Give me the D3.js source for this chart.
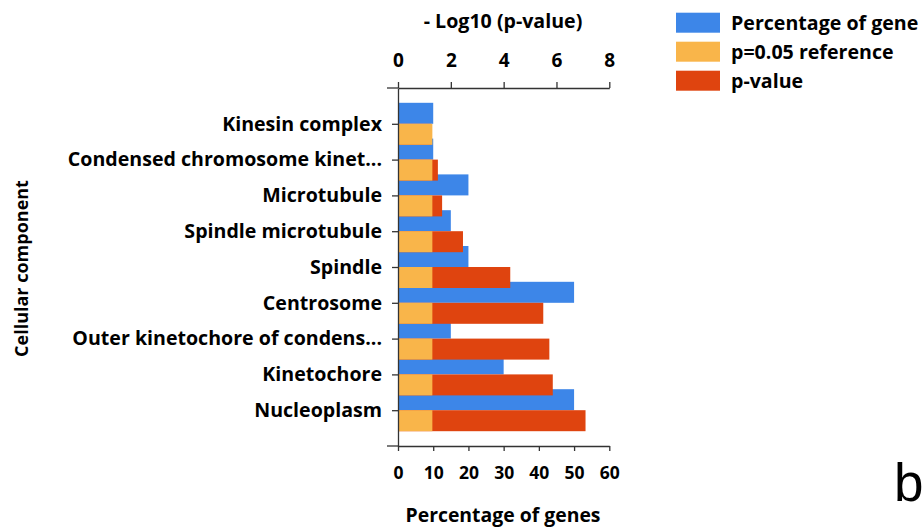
<!DOCTYPE html>
<html>
<head>
<meta charset="utf-8">
<script src="https://cdn.jsdelivr.net/npm/d3@7"></script>
<style>
  html, body { margin: 0; padding: 0; background: #fff; }
  svg { display: block; }
  text { font-family: "Open Sans", sans-serif; font-weight: bold; fill: #000; }
</style>
</head>
<body>
<svg id="chart" width="923" height="529"></svg>
<script>
const categories = [
  "Kinesin complex",
  "Condensed chromosome kinet...",
  "Microtubule",
  "Spindle microtubule",
  "Spindle",
  "Centrosome",
  "Outer kinetochore of condens...",
  "Kinetochore",
  "Nucleoplasm"
];
const percentGenes = [10, 10, 20, 15, 20, 50, 15, 30, 50];
const logP = [1.25, 1.51, 1.67, 2.46, 4.25, 5.5, 5.73, 5.86, 7.1];
const refLogP = [1.301, 1.301, 1.301, 1.301, 1.301, 1.301, 1.301, 1.301, 1.301];
const topTicks = [0, 2, 4, 6, 8];
const bottomTicks = [0, 10, 20, 30, 40, 50, 60];
const seriesNames = ["Percentage of gene", "p=0.05 reference", "p-value"];
const colors = ["#3d86e8", "#f9b54a", "#df440f"];

const svg = d3.select("#chart");
const mLeft = 398, mRight = 609.3, mTop = 88, mBottom = 446;

const xLog = d3.scaleLinear().domain([0, 8]).range([mLeft, mRight]);
const xPct = d3.scaleLinear().domain([0, 60]).range([mLeft, mRight]);
const y = d3.scalePoint().domain(categories).range([mTop, mBottom]).padding(1);
const barH = 21;

// Blue bars (percentage), above tick
svg.append("g").selectAll("rect").data(categories).join("rect")
  .attr("x", xPct(0))
  .attr("y", (d) => y(d) - barH)
  .attr("width", (d, i) => xPct(percentGenes[i]) - xPct(0))
  .attr("height", barH)
  .attr("fill", colors[0]);

// Red bars (p-value)
svg.append("g").selectAll("rect").data(categories).join("rect")
  .attr("x", xLog(0))
  .attr("y", (d) => y(d))
  .attr("width", (d, i) => xLog(logP[i]) - xLog(0))
  .attr("height", barH)
  .attr("fill", colors[2]);

// Orange bars (reference)
svg.append("g").selectAll("rect").data(categories).join("rect")
  .attr("x", xLog(0))
  .attr("y", (d) => y(d))
  .attr("width", (d, i) => xLog(refLogP[i]) - xLog(0))
  .attr("height", barH)
  .attr("fill", colors[1]);

// Axes
const axTop = svg.append("g").attr("transform", `translate(0,${mTop})`)
  .call(d3.axisTop(xLog).tickValues(topTicks).tickSize(6).tickSizeOuter(0).tickPadding(15));
axTop.selectAll("text").style("font-size", "19px");

const axBottom = svg.append("g").attr("transform", `translate(0,${mBottom})`)
  .call(d3.axisBottom(xPct).tickValues(bottomTicks).tickSize(5).tickSizeOuter(0).tickPadding(16));
axBottom.selectAll("text").style("font-size", "17.5px");

const axLeft = svg.append("g").attr("transform", `translate(${mLeft},0)`)
  .call(d3.axisLeft(y).tickSize(6).tickSizeOuter(0).tickPadding(10));
axLeft.selectAll("text").style("font-size", "19.6px");

svg.selectAll(".domain, .tick line").attr("stroke", "#333").attr("stroke-width", 1.3);

// extend top/bottom axis lines slightly left
svg.append("line").attr("x1", 387).attr("x2", mLeft).attr("y1", mTop).attr("y2", mTop).attr("stroke", "#333").attr("stroke-width", 1.3);
svg.append("line").attr("x1", 387).attr("x2", mLeft).attr("y1", mBottom).attr("y2", mBottom).attr("stroke", "#333").attr("stroke-width", 1.3);

// Titles
svg.append("text").attr("x", 503).attr("y", 27.5).attr("text-anchor", "middle")
  .style("font-size", "19.6px").text("- Log10 (p-value)");
svg.append("text").attr("x", 503).attr("y", 521.5).attr("text-anchor", "middle")
  .style("font-size", "19.4px").text("Percentage of genes");
svg.append("text").attr("transform", "translate(28,268.5) rotate(-90)").attr("text-anchor", "middle")
  .style("font-size", "18px").text("Cellular component");

// Legend
const lg = svg.append("g");
seriesNames.forEach((name, i) => {
  lg.append("rect").attr("x", 676).attr("y", 12.7 + i * 29).attr("width", 44).attr("height", 20).attr("fill", colors[i]);
  lg.append("text").attr("x", 731).attr("y", 29.5 + i * 29).style("font-size", "19.6px").text(name);
});

// panel letter
svg.append("text").attr("x", 894).attr("y", 501)
  .style("font-family", "'Liberation Sans', Arial, sans-serif").style("font-weight", "normal")
  .style("font-size", "53px").text("b");
</script>
</body>
</html>
